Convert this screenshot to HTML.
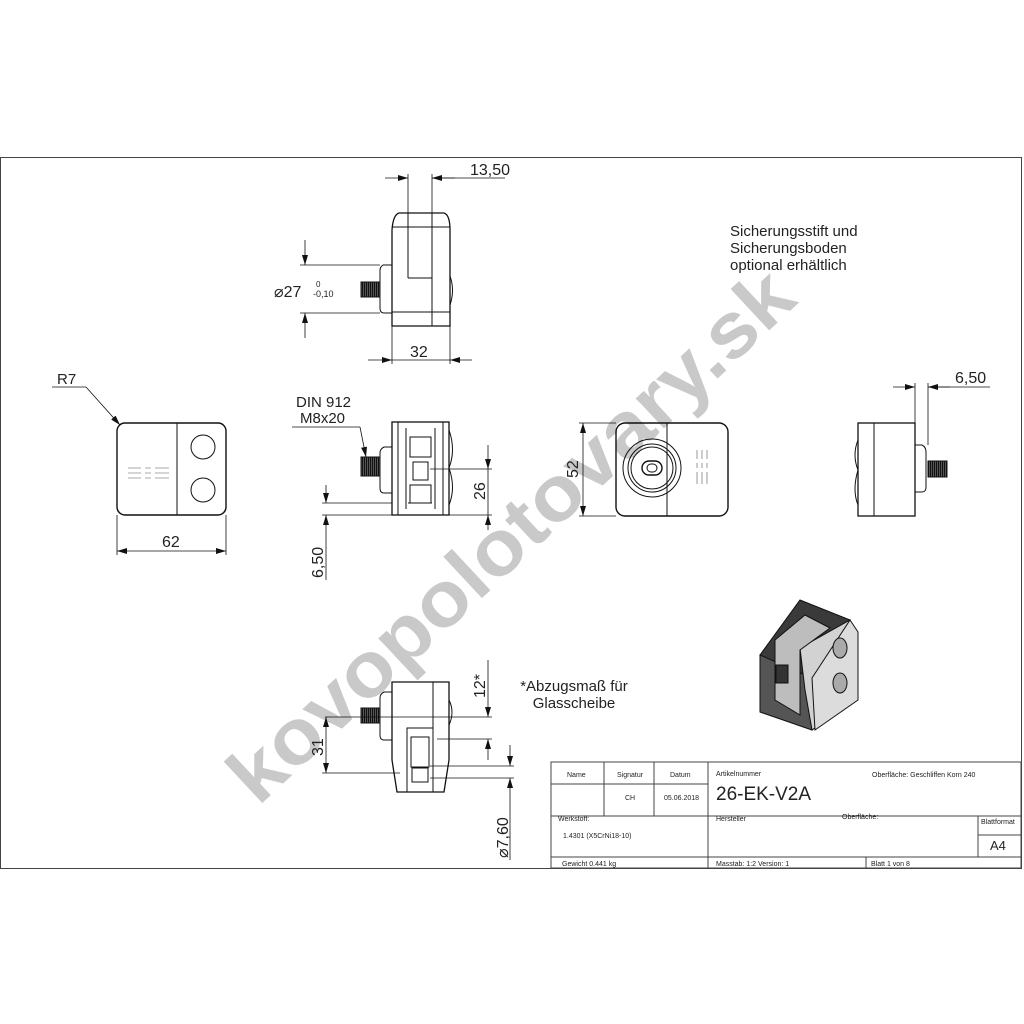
<!DOCTYPE html>
<html><head><meta charset="utf-8"><style>
html,body{margin:0;padding:0;background:#fff}
svg{display:block}
text{font-family:"Liberation Sans",sans-serif;fill:#222}
</style></head><body>
<svg width="1024" height="1024" viewBox="0 0 1024 1024" xmlns="http://www.w3.org/2000/svg">
<defs>
<marker id="a" viewBox="0 0 10 6" refX="10" refY="3" markerWidth="10" markerHeight="6" orient="auto-start-reverse" markerUnits="userSpaceOnUse"><path d="M0,0 L10,3 L0,6z" fill="#111"/></marker>
<pattern id="th" width="2" height="3" patternUnits="userSpaceOnUse"><rect width="2" height="3" fill="#555"/><rect width="1" height="3" fill="#111"/></pattern>
</defs>
<!-- frame -->
<rect x="0.5" y="157.5" width="1021" height="711" fill="none" stroke="#444" stroke-width="1"/>

<!-- watermark -->
<text x="515" y="560" font-size="78" font-weight="bold" fill="#c9c9c9" style="fill:#c9c9c9" text-anchor="middle" textLength="740" lengthAdjust="spacingAndGlyphs" transform="rotate(-43 515 540)">kovopolotovary.sk</text>

<g fill="none" stroke="#111" stroke-width="1">
<!-- TOP side view -->
<path d="M392,326 L392,230 Q393,215 399,213 L444,213 Q450,215 450,230 L450,326 Z" stroke-width="1.3"/>
<line x1="408" y1="213" x2="408" y2="278"/><line x1="432" y1="213" x2="432" y2="326"/>
<line x1="392" y1="227" x2="450" y2="227"/><line x1="392" y1="312" x2="450" y2="312"/>
<line x1="408" y1="278" x2="432" y2="278"/>
<path d="M392,265 L383,265 Q380,267 380,270 L380,308 Q380,313 384,313 L392,313"/>
<rect x="361" y="282" width="19" height="15" fill="url(#th)"/>
<path d="M450,276 Q455,290 450,305"/>
<!-- dims top -->
<g stroke-width="0.8">
<line x1="408" y1="213" x2="408" y2="174"/><line x1="432" y1="213" x2="432" y2="174"/>
<line x1="385" y1="178" x2="408" y2="178" marker-end="url(#a)"/><line x1="455" y1="178" x2="432" y2="178" marker-end="url(#a)"/><line x1="432" y1="178" x2="505" y2="178"/>
<line x1="380" y1="265" x2="300" y2="265"/><line x1="380" y1="313" x2="300" y2="313"/>
<line x1="305" y1="240" x2="305" y2="265" marker-end="url(#a)"/><line x1="305" y1="338" x2="305" y2="313" marker-end="url(#a)"/>
<line x1="392" y1="326" x2="392" y2="364"/><line x1="450" y1="326" x2="450" y2="364"/>
<line x1="368" y1="360" x2="392" y2="360" marker-end="url(#a)"/><line x1="472" y1="360" x2="450" y2="360" marker-end="url(#a)"/><line x1="392" y1="360" x2="450" y2="360"/>
</g>

<!-- LEFT view -->
<rect x="117" y="423" width="109" height="92" rx="8" stroke-width="1.4"/>
<line x1="177" y1="423" x2="177" y2="515"/>
<circle cx="203" cy="447" r="12"/><circle cx="203" cy="490" r="12"/>
<g stroke-width="0.6" stroke="#555"><path d="M128,468h13M145,468h6M155,468h14M128,473h13M145,473h6M155,473h14M128,478h13M145,478h6M155,478h14"/></g>
<g stroke-width="0.8">
<line x1="52" y1="387" x2="86" y2="387"/><line x1="86" y1="387" x2="120" y2="425" marker-end="url(#a)"/>
<line x1="117" y1="515" x2="117" y2="555"/><line x1="226" y1="515" x2="226" y2="555"/>
<line x1="117" y1="551" x2="226" y2="551" marker-start="url(#a)" marker-end="url(#a)"/>
</g>

<!-- MIDDLE front view -->
<rect x="392" y="422" width="57" height="93" stroke-width="1.3"/>
<line x1="398" y1="422" x2="398" y2="515"/><line x1="443" y1="422" x2="443" y2="515"/>
<line x1="406" y1="428" x2="406" y2="509"/><line x1="435" y1="428" x2="435" y2="509"/>
<rect x="410" y="437" width="21" height="20"/><rect x="410" y="485" width="21" height="18"/>
<rect x="413" y="462" width="15" height="18"/>
<line x1="408" y1="503" x2="432" y2="503"/>
<path d="M449,430 Q456,450 449,468 Q456,488 449,505"/>
<path d="M392,447 L384,447 Q380,449 380,453 L380,488 Q380,493 384,493 L392,493"/>
<rect x="361" y="457" width="19" height="19" fill="url(#th)"/>
<g stroke-width="0.8">
<line x1="430" y1="469" x2="492" y2="469"/><line x1="449" y1="515" x2="492" y2="515"/>
<line x1="488" y1="445" x2="488" y2="469" marker-end="url(#a)"/><line x1="488" y1="530" x2="488" y2="515" marker-end="url(#a)"/><line x1="488" y1="469" x2="488" y2="515"/>
<line x1="392" y1="503" x2="322" y2="503"/><line x1="392" y1="515" x2="322" y2="515"/>
<line x1="326" y1="485" x2="326" y2="503" marker-end="url(#a)"/><line x1="326" y1="580" x2="326" y2="515" marker-end="url(#a)"/>
<line x1="292" y1="427" x2="360" y2="427"/><line x1="360" y1="427" x2="366" y2="457" marker-end="url(#a)"/>
</g>

<!-- front circle view -->
<rect x="616" y="423" width="112" height="93" rx="9" stroke-width="1.4"/>
<line x1="667" y1="423" x2="667" y2="516"/>
<circle cx="652" cy="468" r="29"/><circle cx="652" cy="468" r="24"/><circle cx="652" cy="468" r="21"/>
<rect x="642" y="461" width="20" height="14" rx="7" stroke-width="1.4"/><rect x="647" y="464" width="10" height="8" rx="4"/>
<g stroke-width="0.6" stroke="#555"><path d="M697,450v9M702,450v9M707,450v9M697,463v5M702,463v5M707,463v5M697,472v12M702,472v12M707,472v12"/></g>
<g stroke-width="0.8">
<line x1="616" y1="423" x2="579" y2="423"/><line x1="616" y1="516" x2="579" y2="516"/>
<line x1="583" y1="423" x2="583" y2="516" marker-start="url(#a)" marker-end="url(#a)"/>
</g>

<!-- right view -->
<rect x="858" y="423" width="57" height="93" stroke-width="1.3"/>
<line x1="874" y1="423" x2="874" y2="516"/>
<path d="M858,440 Q852,455 858,470 Q852,490 858,505"/>
<path d="M915,445 L922,445 Q926,447 926,452 L926,487 Q926,492 922,492 L915,492"/>
<rect x="928" y="461" width="19" height="16" fill="url(#th)"/>
<g stroke-width="0.8">
<line x1="915" y1="423" x2="915" y2="383"/><line x1="928" y1="445" x2="928" y2="383"/>
<line x1="893" y1="387" x2="915" y2="387" marker-end="url(#a)"/><line x1="950" y1="387" x2="928" y2="387" marker-end="url(#a)"/><line x1="928" y1="387" x2="990" y2="387"/>
</g>

<!-- bottom view -->
<path d="M392,682 L449,682 L449,760 L444,792 L397,792 L392,760 Z" stroke-width="1.3"/>
<line x1="433" y1="682" x2="433" y2="792"/>
<rect x="407" y="728" width="26" height="64"/><rect x="411" y="737" width="18" height="30"/>
<rect x="412" y="768" width="16" height="14"/>
<path d="M449,700 Q455,712 449,725"/>
<path d="M392,692 L384,692 Q380,694 380,698 L380,735 Q380,740 384,740 L392,740"/>
<rect x="361" y="708" width="19" height="15" fill="url(#th)"/>
<g stroke-width="0.8">
<line x1="325" y1="717" x2="492" y2="717"/><line x1="437" y1="739" x2="492" y2="739"/>
<line x1="488" y1="660" x2="488" y2="717" marker-end="url(#a)"/><line x1="488" y1="760" x2="488" y2="739" marker-end="url(#a)"/>
<line x1="322" y1="773" x2="400" y2="773"/>
<line x1="326" y1="717" x2="326" y2="773" marker-start="url(#a)" marker-end="url(#a)"/>
<line x1="430" y1="766" x2="514" y2="766"/><line x1="430" y1="778" x2="514" y2="778"/>
<line x1="510" y1="745" x2="510" y2="766" marker-end="url(#a)"/><line x1="510" y1="860" x2="510" y2="778" marker-end="url(#a)"/>
</g>

<!-- title block -->
<g stroke="#444" stroke-width="1">
<rect x="551" y="762" width="470" height="106"/>
<line x1="551" y1="784" x2="708" y2="784"/><line x1="551" y1="816" x2="1021" y2="816"/><line x1="551" y1="857" x2="1021" y2="857"/>
<line x1="604" y1="762" x2="604" y2="816"/><line x1="654" y1="762" x2="654" y2="816"/><line x1="708" y1="762" x2="708" y2="868"/>
<line x1="978" y1="816" x2="978" y2="857"/><line x1="978" y1="835" x2="1021" y2="835"/><line x1="866" y1="857" x2="866" y2="868"/>
</g>
</g>

<!-- iso view -->
<g stroke="#111" stroke-width="1">
<polygon points="760,655 800,600 850,620 812,678" fill="#3a3a3a"/>
<polygon points="760,655 812,678 812,730 760,712" fill="#555"/>
<polygon points="800,648 850,620 855,700 812,730 805,690" fill="#d2d2d2"/>
<polygon points="812,678 850,620 858,632 858,700 815,730" fill="#dcdcdc"/>
<polygon points="775,640 805,615 830,628 800,650 800,715 775,700" fill="#bdbdbd"/>
<rect x="776" y="665" width="12" height="18" fill="#333"/>
<ellipse cx="840" cy="648" rx="7" ry="10" fill="#aaa"/><ellipse cx="840" cy="683" rx="7" ry="10" fill="#aaa"/>
</g>

<!-- texts -->
<g font-size="15">
<text x="470" y="175" font-size="16">13,50</text>
<text x="410" y="357" font-size="16">32</text>
<text x="274" y="297" font-size="16">⌀27</text>
<text x="316" y="287" font-size="8">0</text><text x="313" y="297" font-size="9">-0,10</text>
<text x="57" y="384" font-size="15">R7</text>
<text x="162" y="547" font-size="16">62</text>
<text x="296" y="407" font-size="15">DIN 912</text>
<text x="300" y="423" font-size="15">M8x20</text>
<text x="0" y="0" font-size="16" transform="translate(485,500) rotate(-90)">26</text>
<text x="0" y="0" font-size="16" transform="translate(323,578) rotate(-90)">6,50</text>
<text x="0" y="0" font-size="16" transform="translate(578,478) rotate(-90)">52</text>
<text x="955" y="383" font-size="16">6,50</text>
<text x="730" y="236">Sicherungsstift und</text>
<text x="730" y="253">Sicherungsboden</text>
<text x="730" y="270">optional erhältlich</text>
<text x="574" y="691" text-anchor="middle">*Abzugsmaß für</text>
<text x="574" y="708" text-anchor="middle">Glasscheibe</text>
<text x="0" y="0" font-size="16" transform="translate(485,698) rotate(-90)">12*</text>
<text x="0" y="0" font-size="16" transform="translate(323,756) rotate(-90)">31</text>
<text x="0" y="0" font-size="16" transform="translate(508,858) rotate(-90)">⌀7,60</text>
</g>
<g font-size="7" fill="#333">
<text x="567" y="777">Name</text><text x="617" y="777">Signatur</text><text x="670" y="777">Datum</text>
<text x="625" y="800">CH</text><text x="664" y="800">05.06.2018</text>
<text x="716" y="776">Artikelnummer</text><text x="872" y="777">Oberfläche:  Geschliffen Korn 240</text>
<text x="558" y="821">Werkstoff:</text><text x="563" y="838">1.4301 (X5CrNi18-10)</text>
<text x="716" y="821">Hersteller</text><text x="842" y="819">Oberfläche:</text>
<text x="981" y="824">Blattformat</text>
<text x="562" y="866">Gewicht 0.441 kg</text>
<text x="716" y="866">Masstab: 1:2     Version:   1</text>
<text x="871" y="866">Blatt 1 von 8</text>
</g>
<text x="716" y="800" font-size="19">26-EK-V2A</text>
<text x="990" y="850" font-size="13">A4</text>
</svg>
</body></html>
